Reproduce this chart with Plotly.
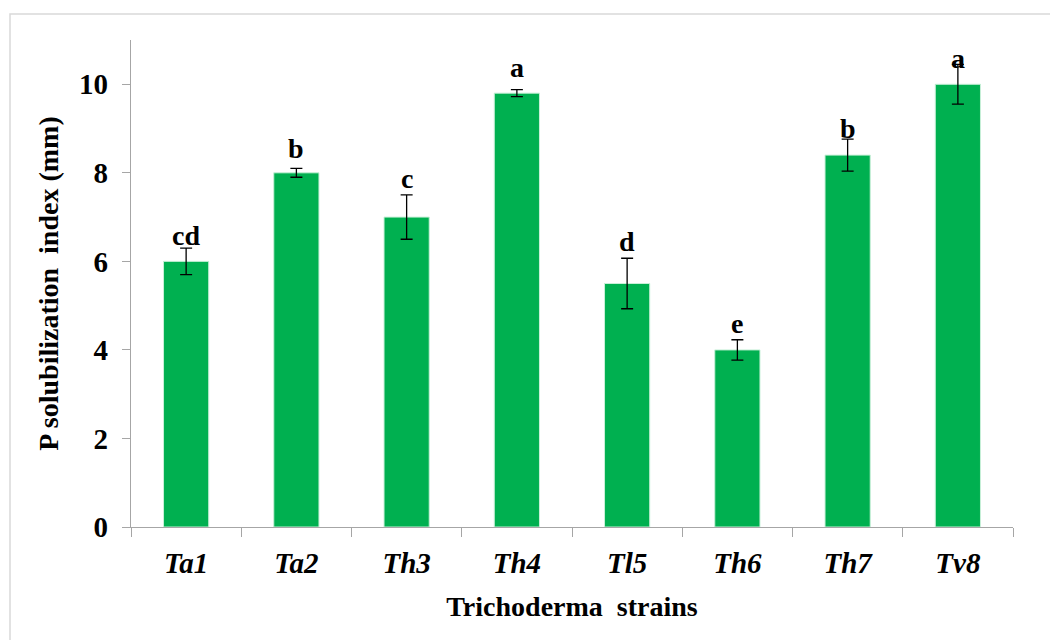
import plotly.graph_objects as go

strains = ["Ta1", "Ta2", "Th3", "Th4", "Tl5", "Th6", "Th7", "Tv8"]
means = [6.0, 8.0, 7.0, 9.8, 5.5, 4.0, 8.4, 10.0]
errors = [0.3, 0.1, 0.5, 0.08, 0.57, 0.23, 0.36, 0.45]
letters = ["cd", "b", "c", "a", "d", "e", "b", "a"]
y_ticks = [0, 2, 4, 6, 8, 10]

FONT = "Liberation Serif"
OFF = 8  # browser default body margin
W, H = 1058 - OFF, 640 - OFF
ML, MR, MT, MB = 131 - OFF, 45, 40 - OFF, 113

fig = go.Figure()
fig.add_trace(go.Bar(
    x=[f"<b><i>{s}</i></b>" for s in strains],
    y=means,
    marker=dict(color="#00B050", line=dict(color="#c8f0d8", width=1)),
    error_y=dict(type="data", array=errors, visible=True, color="black",
                 thickness=1.3, width=6),
    width=0.41,
    showlegend=False,
))

# label offsets in pixels above bar top (style only)
label_shift = [16, 15, 29, 16, 33, 17, 17, 16]
for s, m, lab, sh in zip(strains, means, letters, label_shift):
    fig.add_annotation(x=f"<b><i>{s}</i></b>", y=m, text=f"<b>{lab}</b>",
                       showarrow=False, yanchor="bottom", yshift=sh - 8,
                       font=dict(family=FONT, size=28, color="black"))

pw = W - ML - MR
ph = H - MT - MB
fig.add_shape(type="rect", xref="paper", yref="paper",
              x0=(10 - OFF - ML) / pw, x1=(W + 20 - ML) / pw,
              y0=(H - MB - (H + 20)) / ph, y1=(H - MB - (14 - OFF)) / ph,
              line=dict(color="#d9d9d9", width=1.5), fillcolor="rgba(0,0,0,0)",
              layer="below")

fig.update_layout(
    width=W, height=H,
    margin=dict(l=ML, r=MR, t=MT, b=MB),
    paper_bgcolor="white", plot_bgcolor="white",
    font=dict(family=FONT, color="black"),
    xaxis=dict(
        showline=True, linecolor="#a6a6a6", linewidth=1.3,
        ticks="outside", tickson="boundaries", ticklen=9, tickcolor="#a6a6a6",
        tickwidth=1.3, ticklabelstandoff=10,
        tickfont=dict(family=FONT, size=29, color="black"),
        title=dict(text="<b>Trichoderma  strains</b>",
                   font=dict(family=FONT, size=28, color="black"), standoff=18),
        showgrid=False,
    ),
    yaxis=dict(
        range=[0, 11], tickvals=y_ticks,
        ticktext=[f"<b>{v}</b>" for v in y_ticks],
        showline=True, linecolor="#a6a6a6", linewidth=1.3,
        ticks="outside", ticklen=8, tickcolor="#a6a6a6", tickwidth=1.3,
        ticklabelstandoff=8,
        tickfont=dict(family=FONT, size=29, color="black"),
        title=dict(text="<b>P solubilization  index (mm)</b>",
                   font=dict(family=FONT, size=28, color="black"), standoff=12),
        showgrid=False, zeroline=False,
    ),
)

fig.write_html("out.html")
